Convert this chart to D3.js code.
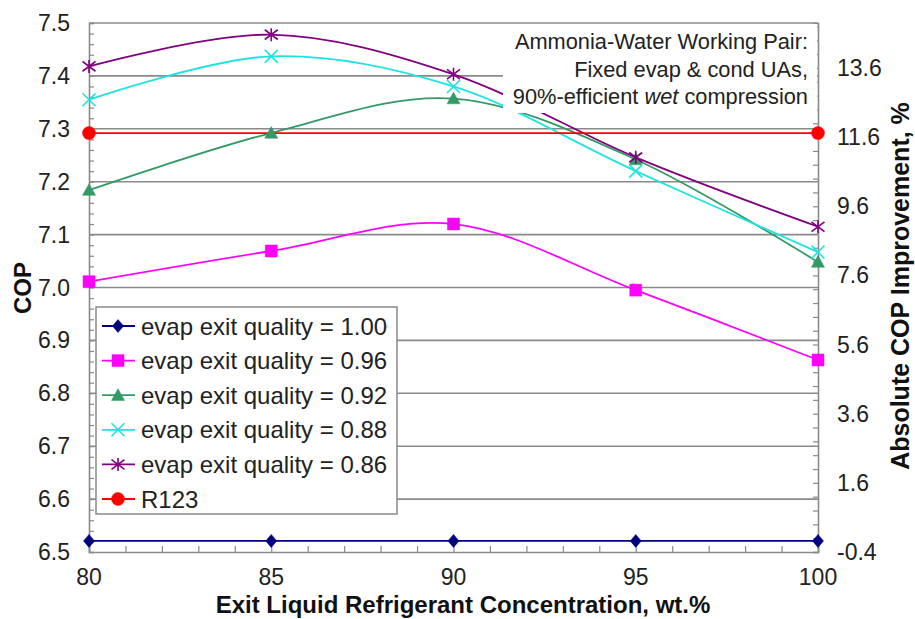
<!DOCTYPE html>
<html>
<head>
<meta charset="utf-8">
<script src="https://cdn.jsdelivr.net/npm/d3@7"></script>
<style>
  body { margin: 0; background: #fff; }
  svg { display: block; font-family: Arial, "Liberation Sans", sans-serif; }
</style>
</head>
<body>
<svg id="chart"></svg>
<script>

/*Data*/
var concentrations = [80, 85, 90, 95, 100];
var quality100 = [6.521, 6.521, 6.521, 6.521, 6.521];
var quality096 = [7.011, 7.069, 7.120, 6.995, 6.863];
var quality092 = [7.184, 7.292, 7.357, 7.242, 7.048];
var quality088 = [7.355, 7.437, 7.380, 7.220, 7.067];
var quality086 = [7.418, 7.478, 7.403, 7.246, 7.115];
var r123Concentrations = [80, 100];
var r123 = [7.292, 7.292];

var seriesNames = ["evap exit quality = 1.00", "evap exit quality = 0.96", "evap exit quality = 0.92",
    "evap exit quality = 0.88", "evap exit quality = 0.86", "R123"];

var copTicks = [6.5, 6.6, 6.7, 6.8, 6.9, 7.0, 7.1, 7.2, 7.3, 7.4, 7.5];
var improvementTicks = [-0.4, 1.6, 3.6, 5.6, 7.6, 9.6, 11.6, 13.6];
var xTicks = [80, 85, 90, 95, 100];

var noteLines = ["Ammonia-Water Working Pair:", "Fixed evap & cond UAs,"];

/*Layout*/
var width = 915, height = 619;
var plot = {left: 89, right: 818, top: 23, bottom: 552};
var axisGrey = "#8a8a8a";
var textColour = "#222";

var svg = d3.select("#chart").attr("width", width).attr("height", height);

var x = d3.scaleLinear().domain([80, 100]).range([plot.left, plot.right]);
var y = d3.scaleLinear().domain([6.5, 7.5]).range([plot.bottom, plot.top]);
var y2 = d3.scaleLinear().domain([-0.4, 14.9]).range([plot.bottom, plot.top]);

//Series table built from the arrays
var series = [
    {name: seriesNames[0], xs: concentrations, ys: quality100, colour: "#000080", marker: "diamond"},
    {name: seriesNames[1], xs: concentrations, ys: quality096, colour: "#ff00ff", marker: "square"},
    {name: seriesNames[2], xs: concentrations, ys: quality092, colour: "#339966", marker: "triangle"},
    {name: seriesNames[3], xs: concentrations, ys: quality088, colour: "#1fe3e3", marker: "cross"},
    {name: seriesNames[4], xs: concentrations, ys: quality086, colour: "#800080", marker: "star"},
    {name: seriesNames[5], xs: r123Concentrations, ys: r123, colour: "#ff0000", marker: "circle"}
];

//Marker outline for each kind
function markerPath(kind, s) {
    if (kind == "diamond") return "M0," + (-s) + "L" + (s * 0.85) + ",0L0," + s + "L" + (-s * 0.85) + ",0Z";
    if (kind == "square") return "M" + (-s) + "," + (-s) + "H" + s + "V" + s + "H" + (-s) + "Z";
    if (kind == "triangle") return "M0," + (-s) + "L" + s + "," + (s * 0.8) + "L" + (-s) + "," + (s * 0.8) + "Z";
    if (kind == "cross") return "M" + (-s) + "," + (-s) + "L" + s + "," + s + "M" + (-s) + "," + s + "L" + s + "," + (-s);
    if (kind == "star") return "M" + (-s) + "," + (-s * 0.75) + "L" + s + "," + (s * 0.75) + "M" + (-s) + "," + (s * 0.75) + "L" + s + "," + (-s * 0.75) + "M0," + (-s) + "V" + s;
    return d3.symbol(d3.symbolCircle, Math.PI * s * s)();
}

function drawMarker(g, kind, colour, cx, cy) {
    var stroked = (kind == "cross" || kind == "star");
    g.append("path")
        .attr("d", markerPath(kind, kind == "square" ? 6 : 6.5))
        .attr("transform", "translate(" + cx + "," + cy + ")")
        .attr("fill", stroked ? "none" : colour)
        .attr("stroke", colour)
        .attr("stroke-width", stroked ? 1.6 : 0.5);
}

//Horizontal gridlines
svg.append("g").selectAll("line")
    .data(copTicks.slice(1))
    .enter()
    .append("line")
    .attr("x1", plot.left).attr("x2", plot.right)
    .attr("y1", function(d){return y(d);})
    .attr("y2", function(d){return y(d);})
    .attr("stroke", axisGrey)
    .attr("stroke-width", 1.6);

//Axis lines and inward ticks
var leftAxis = d3.axisRight(y).tickValues(d3.range(6.5, 7.5001, 0.02)).tickSize(5).tickFormat("");
svg.append("g").attr("transform", "translate(" + plot.left + ",0)").call(leftAxis);

var rightAxis = d3.axisLeft(y2).tickValues(d3.range(-0.4, 14.9, 0.4)).tickSize(5).tickFormat("");
svg.append("g").attr("transform", "translate(" + plot.right + ",0)").call(rightAxis);

var bottomAxis = d3.axisTop(x).tickValues(d3.range(80, 100.5, 1)).tickSize(6).tickFormat("");
svg.append("g").attr("transform", "translate(0," + plot.bottom + ")").call(bottomAxis);

svg.selectAll(".domain").attr("stroke", axisGrey).attr("stroke-width", 1.6);
svg.selectAll(".tick line").attr("stroke", axisGrey).attr("stroke-width", 1.2);

//Smoothed series lines
var line = d3.line()
    .x(function(d){return x(d[0]);})
    .y(function(d){return y(d[1]);})
    .curve(d3.curveCardinal.tension(0));

var lines = svg.append("g");
series.forEach(function(s){
    var pts = s.xs.map(function(v, i){return [v, s.ys[i]];});
    lines.append("path")
        .attr("d", line(pts))
        .attr("fill", "none")
        .attr("stroke", s.colour)
        .attr("stroke-width", 1.8);
});

//Markers
var marks = svg.append("g");
series.forEach(function(s){
    s.xs.forEach(function(v, i){
        drawMarker(marks, s.marker, s.colour, x(v), y(s.ys[i]));
    });
});

//Note box covering the top right corner
svg.append("rect")
    .attr("x", 503).attr("y", plot.top + 1)
    .attr("width", plot.right - 503 - 1).attr("height", 89)
    .attr("fill", "#fff");

var note = svg.append("text")
    .attr("text-anchor", "end")
    .attr("font-size", 21.8)
    .attr("fill", textColour);
noteLines.forEach(function(t, i){
    note.append("tspan").attr("x", 808).attr("y", 49 + i * 27.5).text(t);
});
var last = note.append("tspan").attr("x", 808).attr("y", 104);
last.append("tspan").text("90%-efficient ");
last.append("tspan").attr("font-style", "italic").text("wet");
last.append("tspan").text(" compression");

//Legend
var legend = svg.append("g");
legend.append("rect")
    .attr("x", 96).attr("y", 307)
    .attr("width", 301).attr("height", 207)
    .attr("fill", "#fff")
    .attr("stroke", axisGrey)
    .attr("stroke-width", 1.5);

series.forEach(function(s, i){
    var cy = 326 + i * 34.6;
    legend.append("line")
        .attr("x1", 102).attr("x2", 135)
        .attr("y1", cy).attr("y2", cy)
        .attr("stroke", s.colour).attr("stroke-width", 1.8);
    drawMarker(legend, s.marker, s.colour, 118, cy);
    legend.append("text")
        .attr("x", 141).attr("y", cy + 8.5)
        .attr("font-size", 24)
        .attr("fill", textColour)
        .text(s.name);
});

//Tick labels
svg.append("g").selectAll("text")
    .data(copTicks)
    .enter()
    .append("text")
    .attr("x", 70)
    .attr("y", function(d){return y(d) + 8;})
    .attr("text-anchor", "end")
    .attr("font-size", 23)
    .attr("fill", textColour)
    .text(function(d){return d.toFixed(1);});

svg.append("g").selectAll("text")
    .data(improvementTicks)
    .enter()
    .append("text")
    .attr("x", 837)
    .attr("y", function(d){return y2(d) + 8;})
    .attr("font-size", 23)
    .attr("fill", textColour)
    .text(function(d){return d.toFixed(1);});

svg.append("g").selectAll("text")
    .data(xTicks)
    .enter()
    .append("text")
    .attr("x", function(d){return x(d);})
    .attr("y", 585)
    .attr("text-anchor", "middle")
    .attr("font-size", 23)
    .attr("fill", textColour)
    .text(function(d){return d;});

//Axis titles
svg.append("text")
    .attr("x", 463).attr("y", 613)
    .attr("text-anchor", "middle")
    .attr("font-size", 24).attr("font-weight", "bold")
    .attr("fill", "#111")
    .text("Exit Liquid Refrigerant Concentration, wt.%");

svg.append("text")
    .attr("transform", "translate(31,288) rotate(-90)")
    .attr("text-anchor", "middle")
    .attr("font-size", 24).attr("font-weight", "bold")
    .attr("fill", "#111")
    .text("COP");

svg.append("text")
    .attr("transform", "translate(909,286) rotate(-90)")
    .attr("text-anchor", "middle")
    .attr("font-size", 25).attr("font-weight", "bold")
    .attr("fill", "#111")
    .text("Absolute COP Improvement, %");

</script>
</body>
</html>
